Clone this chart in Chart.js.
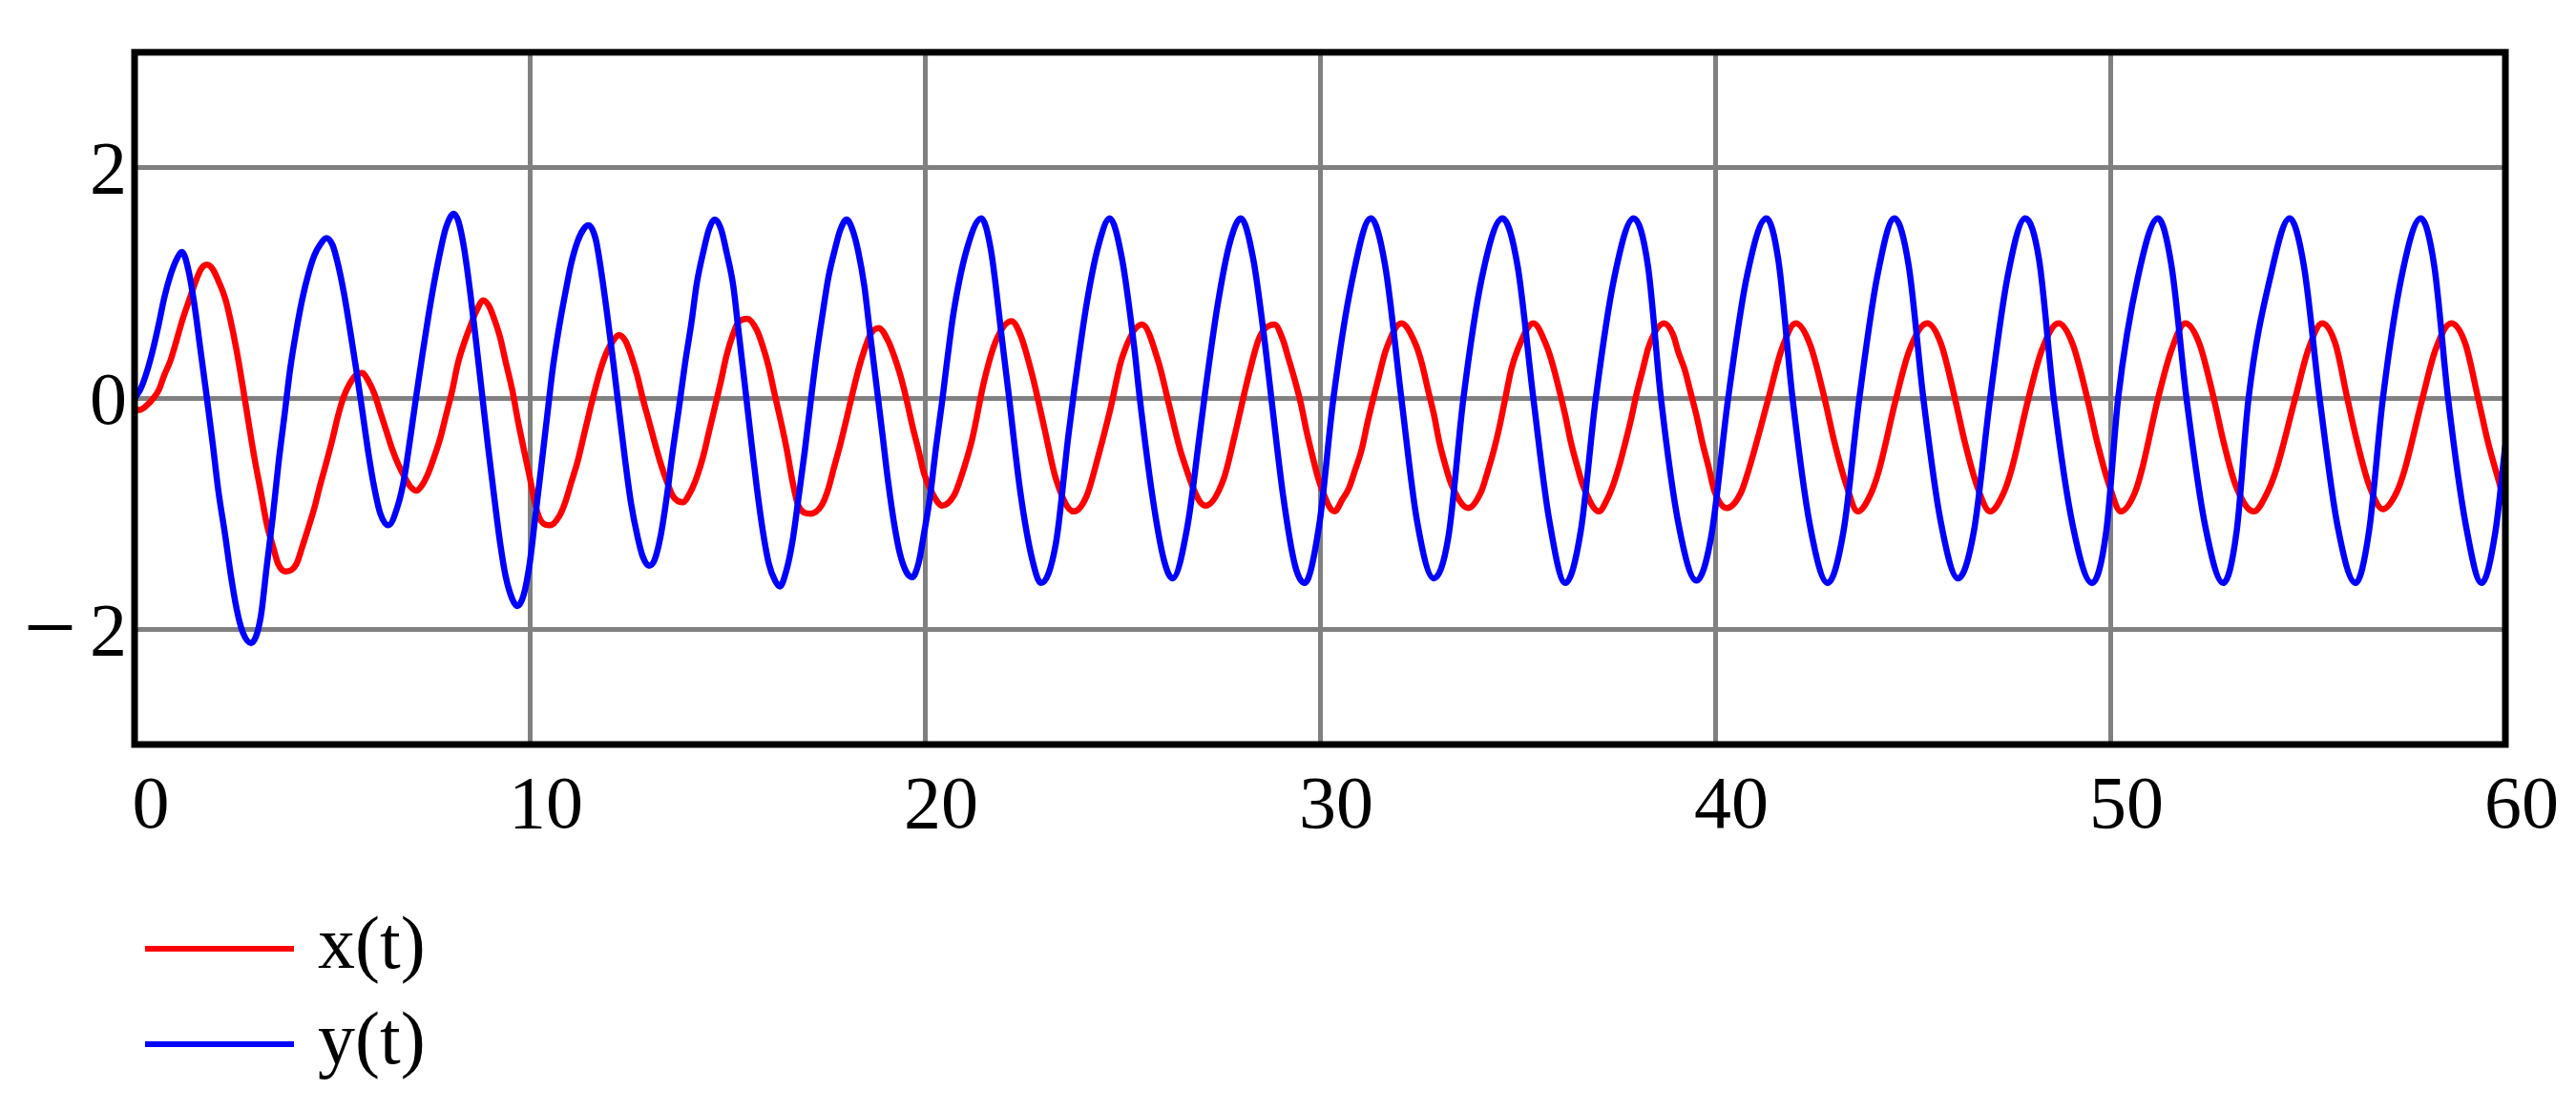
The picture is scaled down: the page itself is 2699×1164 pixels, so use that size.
<!DOCTYPE html>
<html lang="en">
<head>
<meta charset="utf-8">
<title>x(t), y(t)</title>
<script src="https://cdn.jsdelivr.net/npm/chart.js@4.4.1/dist/chart.umd.min.js"></script>
<style>
    html, body { margin: 0; padding: 0; background: #ffffff; }
</style>
</head>
<body>
<canvas id="line-chart" width="2699" height="1164"></canvas>
<script>
"use strict";

// Tick values on the axes
const xTicks = [0, 10, 20, 30, 40, 50, 60];
const yTicks = [-2, 0, 2];

// x(t): times ...
const tX = [
    0.00, 0.12, 0.31, 0.47, 0.61, 0.75, 0.91, 1.06,
    1.22, 1.37, 1.52, 1.68, 1.83, 1.98, 2.12, 2.29,
    2.42, 2.58, 2.73, 2.88, 3.03, 3.19, 3.34, 3.50,
    3.64, 3.82, 4.09, 4.25, 4.39, 4.55, 4.69, 4.85,
    5.01, 5.15, 5.30, 5.45, 5.60, 5.76, 5.92, 6.07,
    6.22, 6.37, 6.51, 6.67, 6.83, 6.97, 7.13, 7.28,
    7.43, 7.58, 7.74, 7.88, 8.04, 8.18, 8.34, 8.49,
    8.64, 8.83, 8.97, 9.10, 9.25, 9.39, 9.56, 9.70,
    9.85, 10.00, 10.14, 10.28, 10.52, 10.75, 10.90, 11.05,
    11.21, 11.35, 11.51, 11.67, 11.81, 11.96, 12.11, 12.26,
    12.42, 12.56, 12.72, 12.86, 13.02, 13.17, 13.32, 13.47,
    13.63, 13.87, 14.07, 14.23, 14.40, 14.53, 14.69, 14.84,
    14.98, 15.15, 15.28, 15.51, 15.75, 15.90, 16.05, 16.19,
    16.35, 16.51, 16.65, 16.80, 17.10, 17.40, 17.56, 17.70,
    17.86, 18.01, 18.16, 18.32, 18.47, 18.63, 18.83, 19.07,
    19.22, 19.38, 19.53, 19.68, 19.84, 19.98, 20.20, 20.44,
    20.74, 20.90, 21.20, 21.50, 21.80, 22.19, 22.42, 22.72,
    23.02, 23.32, 23.77, 24.09, 24.39, 24.69, 24.99, 25.50,
    25.90, 26.19, 26.51, 27.10, 27.56, 27.85, 28.16, 28.47,
    28.85, 29.07, 29.20, 29.37, 29.52, 29.67, 29.81, 29.98,
    30.37, 30.56, 30.73, 30.89, 31.05, 31.21, 31.35, 31.52,
    31.67, 32.06, 32.42, 32.58, 32.73, 32.89, 33.02, 33.19,
    33.33, 33.75, 34.09, 34.23, 34.40, 34.54, 34.69, 34.84,
    35.00, 35.40, 35.74, 35.90, 36.05, 36.21, 36.35, 36.52,
    36.65, 37.06, 37.26, 37.42, 37.56, 37.73, 37.86, 38.02,
    38.17, 38.32, 38.71, 38.94, 39.07, 39.23, 39.38, 39.53,
    39.69, 39.84, 39.98, 40.30, 40.65, 40.85, 41.35, 41.68,
    42.04, 42.40, 42.77, 43.02, 43.32, 43.61, 43.95, 44.15,
    44.58, 44.92, 45.37, 45.72, 46.07, 46.32, 46.62, 46.96,
    47.30, 47.50, 47.93, 48.27, 48.69, 49.05, 49.42, 49.67,
    49.97, 50.27, 50.62, 50.80, 51.21, 51.55, 51.90, 52.26,
    52.62, 52.87, 53.17, 53.63, 53.97, 54.20, 54.68, 55.01,
    55.36, 55.70, 56.00, 56.25, 56.55, 56.90, 57.24, 57.45,
    57.90, 58.23, 58.63, 58.99, 59.31, 59.56, 59.86, 60.00
];
// ... and values
const xVals = [
    -0.10, -0.10, -0.06, 0.00, 0.07, 0.20, 0.33, 0.50,
    0.69, 0.84, 0.99, 1.12, 1.16, 1.12, 1.02, 0.87,
    0.69, 0.42, 0.12, -0.20, -0.51, -0.80, -1.08, -1.28,
    -1.44, -1.50, -1.44, -1.28, -1.13, -0.95, -0.76, -0.56,
    -0.35, -0.15, 0.02, 0.13, 0.20, 0.22, 0.15, 0.04,
    -0.12, -0.28, -0.43, -0.57, -0.68, -0.76, -0.80, -0.75,
    -0.65, -0.51, -0.34, -0.15, 0.07, 0.30, 0.48, 0.62,
    0.75, 0.85, 0.80, 0.69, 0.53, 0.32, 0.07, -0.19,
    -0.44, -0.68, -0.92, -1.06, -1.10, -1.02, -0.90, -0.73,
    -0.55, -0.35, -0.12, 0.10, 0.27, 0.41, 0.50, 0.55,
    0.50, 0.38, 0.20, 0.00, -0.20, -0.39, -0.57, -0.72,
    -0.85, -0.90, -0.81, -0.68, -0.49, -0.30, -0.07, 0.15,
    0.37, 0.56, 0.66, 0.69, 0.59, 0.45, 0.27, 0.05,
    -0.19, -0.45, -0.72, -0.93, -1.00, -0.92, -0.78, -0.60,
    -0.40, -0.19, 0.03, 0.25, 0.42, 0.56, 0.61, 0.50,
    0.37, 0.20, 0.00, -0.23, -0.45, -0.65, -0.83, -0.93,
    -0.84, -0.70, -0.35, 0.15, 0.50, 0.67, 0.55, 0.20,
    -0.25, -0.70, -0.98, -0.85, -0.50, -0.10, 0.35, 0.64,
    0.33, -0.07, -0.50, -0.93, -0.70, -0.31, 0.15, 0.53,
    0.64, 0.50, 0.35, 0.15, -0.05, -0.30, -0.50, -0.72,
    -0.98, -0.88, -0.78, -0.62, -0.45, -0.20, 0.00, 0.23,
    0.42, 0.65, 0.47, 0.30, 0.08, -0.15, -0.38, -0.60,
    -0.75, -0.95, -0.80, -0.65, -0.45, -0.25, 0.00, 0.25,
    0.42, 0.65, 0.45, 0.28, 0.08, -0.15, -0.38, -0.60,
    -0.75, -0.98, -0.88, -0.75, -0.60, -0.38, -0.20, 0.05,
    0.25, 0.45, 0.65, 0.55, 0.40, 0.25, 0.05, -0.15,
    -0.40, -0.60, -0.80, -0.95, -0.82, -0.62, 0.00, 0.42,
    0.65, 0.47, 0.00, -0.38, -0.75, -0.98, -0.82, -0.62,
    0.00, 0.42, 0.65, 0.47, 0.00, -0.38, -0.75, -0.98,
    -0.82, -0.62, 0.00, 0.42, 0.65, 0.47, 0.00, -0.38,
    -0.75, -0.98, -0.82, -0.62, 0.00, 0.42, 0.65, 0.47,
    0.00, -0.38, -0.75, -0.98, -0.82, -0.62, 0.00, 0.42,
    0.65, 0.47, 0.00, -0.38, -0.75, -0.96, -0.82, -0.62,
    0.00, 0.42, 0.65, 0.47, 0.00, -0.38, -0.75, -0.93
];

// y(t): times ...
const tY = [
    0.00, 0.15, 0.31, 0.47, 0.61, 0.75, 0.91, 1.07,
    1.20, 1.37, 1.52, 1.66, 1.82, 1.98, 2.12, 2.29,
    2.43, 2.58, 2.73, 2.95, 3.19, 3.34, 3.50, 3.64,
    3.80, 3.94, 4.10, 4.25, 4.40, 4.55, 4.71, 4.85,
    5.01, 5.15, 5.30, 5.45, 5.61, 5.76, 5.92, 6.07,
    6.22, 6.42, 6.67, 6.83, 6.97, 7.12, 7.28, 7.43,
    7.58, 7.74, 7.88, 8.08, 8.20, 8.34, 8.49, 8.64,
    8.79, 8.95, 9.10, 9.25, 9.39, 9.56, 9.69, 9.85,
    10.00, 10.14, 10.29, 10.44, 10.58, 10.75, 10.91, 11.05,
    11.21, 11.37, 11.49, 11.67, 11.81, 11.96, 12.12, 12.27,
    12.42, 12.56, 12.73, 12.86, 13.02, 13.16, 13.32, 13.47,
    13.61, 13.77, 13.93, 14.09, 14.23, 14.40, 14.54, 14.68,
    14.84, 14.98, 15.15, 15.28, 15.44, 15.60, 15.75, 15.90,
    16.05, 16.21, 16.33, 16.49, 16.65, 16.80, 16.96, 17.11,
    17.26, 17.42, 17.56, 17.73, 17.86, 18.02, 18.17, 18.31,
    18.47, 18.61, 18.77, 18.93, 19.07, 19.23, 19.38, 19.54,
    19.68, 19.84, 19.98, 20.14, 20.28, 20.44, 20.58, 20.73,
    21.06, 21.43, 21.67, 21.95, 22.11, 22.42, 22.72, 22.94,
    23.32, 23.63, 23.78, 24.09, 24.39, 24.68, 24.99, 25.30,
    25.44, 25.76, 26.05, 26.27, 26.65, 26.95, 27.10, 27.41,
    27.72, 28.00, 28.31, 28.62, 28.77, 29.07, 29.37, 29.61,
    29.98, 30.34, 30.80, 31.29, 31.65, 32.06, 32.45, 32.88,
    33.25, 33.63, 34.10, 34.62, 35.00, 35.40, 35.80, 36.21,
    36.60, 36.98, 37.45, 37.94, 38.30, 38.63, 39.08, 39.53,
    39.90, 40.33, 40.80, 41.30, 41.60, 41.96, 42.40, 42.85,
    43.25, 43.65, 44.10, 44.54, 44.90, 45.27, 45.70, 46.15,
    46.55, 46.96, 47.40, 47.85, 48.20, 48.57, 49.05, 49.54,
    49.90, 50.20, 50.70, 51.21, 51.55, 51.93, 52.40, 52.86,
    53.20, 53.50, 54.05, 54.54, 54.90, 55.30, 55.75, 56.21,
    56.55, 56.90, 57.40, 57.86, 58.20, 58.55, 59.00, 59.40,
    59.75, 60.00
];
// ... and values
const yVals = [
    0.00, 0.08, 0.23, 0.43, 0.64, 0.87, 1.07, 1.21,
    1.27, 1.10, 0.80, 0.44, 0.03, -0.40, -0.80, -1.18,
    -1.52, -1.82, -2.02, -2.12, -1.90, -1.47, -1.02, -0.57,
    -0.13, 0.26, 0.60, 0.87, 1.08, 1.24, 1.34, 1.39,
    1.33, 1.16, 0.91, 0.60, 0.25, -0.10, -0.48, -0.78,
    -1.00, -1.10, -0.92, -0.68, -0.36, 0.00, 0.37, 0.70,
    1.00, 1.28, 1.48, 1.60, 1.53, 1.30, 0.93, 0.50,
    0.05, -0.43, -0.85, -1.25, -1.54, -1.74, -1.80, -1.70,
    -1.43, -1.03, -0.60, -0.16, 0.25, 0.63, 0.93, 1.17,
    1.36, 1.47, 1.50, 1.38, 1.10, 0.73, 0.30, -0.13,
    -0.55, -0.90, -1.20, -1.37, -1.45, -1.40, -1.18, -0.85,
    -0.48, -0.10, 0.30, 0.65, 1.00, 1.28, 1.47, 1.55,
    1.47, 1.27, 0.98, 0.60, 0.13, -0.35, -0.78, -1.15,
    -1.43, -1.58, -1.63, -1.50, -1.24, -0.87, -0.46, -0.03,
    0.38, 0.75, 1.05, 1.30, 1.46, 1.55, 1.46, 1.28,
    0.97, 0.57, 0.13, -0.32, -0.72, -1.10, -1.36, -1.51,
    -1.55, -1.43, -1.17, -0.83, -0.43, -0.02, 0.37, 0.75,
    1.29, 1.56, 1.29, 0.52, 0.07, -0.82, -1.40, -1.60,
    -1.25, -0.33, 0.07, 0.81, 1.32, 1.56, 1.21, 0.44,
    0.00, -0.85, -1.40, -1.56, -1.10, -0.33, 0.07, 0.81,
    1.35, 1.56, 1.21, 0.44, 0.00, -0.85, -1.45, -1.60,
    -1.10, 0.00, 1.00, 1.56, 1.15, 0.00, -1.05, -1.56,
    -1.20, 0.00, 1.05, 1.56, 1.15, 0.00, -1.05, -1.60,
    -1.15, 0.00, 1.05, 1.56, 1.15, 0.00, -1.10, -1.58,
    -1.20, 0.00, 1.05, 1.56, 1.20, 0.00, -1.10, -1.60,
    -1.15, 0.00, 1.05, 1.56, 1.15, 0.00, -1.05, -1.56,
    -1.15, 0.00, 1.05, 1.56, 1.20, 0.00, -1.10, -1.60,
    -1.15, 0.00, 1.05, 1.56, 1.15, 0.00, -1.10, -1.60,
    -1.15, 0.00, 1.05, 1.56, 1.15, 0.00, -1.10, -1.60,
    -1.15, 0.00, 1.10, 1.56, 1.15, 0.00, -1.10, -1.60,
    -1.15, -0.40
];

// Font used for ticks and legend
const serif = "'Liberation Serif', 'Times New Roman', serif";
const labelFont = { family: serif, size: 78 };

// Pairs a time array with a value array into {x, y} points
function toPoints(times, values) {
    return times.map((t, i) => ({ x: t, y: values[i] }));
}

// Black frame over the curves, long minus signs on the y-axis and the legend under the chart
const frameAndLegend = {
    id: 'frameAndLegend',
    afterDatasetsDraw(chart) {
        const { ctx, chartArea } = chart;
        ctx.save();
        ctx.strokeStyle = '#000000';
        ctx.lineWidth = 7;
        ctx.strokeRect(chartArea.left, chartArea.top, chartArea.right - chartArea.left, chartArea.bottom - chartArea.top);
        ctx.restore();
    },
    afterDraw(chart) {
        const { ctx, chartArea } = chart;
        const yScale = chart.scales.y;
        ctx.save();

        // Minus sign in front of negative y-labels (wider than the digit font gives)
        ctx.fillStyle = '#000000';
        ctx.font = '98px ' + serif;
        ctx.textAlign = 'right';
        ctx.textBaseline = 'middle';
        yScale.ticks.forEach(tick => {
            if (tick.value < 0) {
                ctx.fillText('\u2212', chartArea.left - 61, yScale.getPixelForValue(tick.value) + 5);
            }
        });

        // Legend: a stroke and the label of each dataset, one under the other
        const left = chartArea.left + 11;
        ctx.font = labelFont.size + 'px ' + serif;
        ctx.textAlign = 'left';
        chart.data.datasets.forEach((ds, i) => {
            const y = chartArea.bottom + 214 + i * 100;
            ctx.strokeStyle = ds.borderColor;
            ctx.lineWidth = 6;
            ctx.beginPath();
            ctx.moveTo(left, y);
            ctx.lineTo(left + 156, y);
            ctx.stroke();
            ctx.fillText(ds.label, left + 181, y);
        });
        ctx.restore();
    }
};

// Creates the line chart
new Chart(document.getElementById('line-chart'), {
    type: 'line',
    data: {
        datasets: [
            {
                label: 'x(t)',
                data: toPoints(tX, xVals),
                borderColor: '#ff0000',
                borderWidth: 6.5,
                pointRadius: 0,
                cubicInterpolationMode: 'monotone',
                fill: false,
                order: 1
            },
            {
                label: 'y(t)',
                data: toPoints(tY, yVals),
                borderColor: '#0000ff',
                borderWidth: 6.5,
                pointRadius: 0,
                cubicInterpolationMode: 'monotone',
                fill: false,
                order: 0 // drawn on top
            }
        ]
    },
    options: {
        responsive: false,
        animation: false,
        layout: {
            padding: { top: 31, right: 74, left: 0, bottom: 0 }
        },
        plugins: {
            legend: { display: false },
            tooltip: { enabled: false }
        },
        scales: {
            x: {
                type: 'linear',
                min: 0,
                max: 60,
                afterBuildTicks: scale => { scale.ticks = xTicks.map(v => ({ value: v })); },
                afterFit: scale => { scale.height = 384; },
                border: { display: false },
                grid: { color: '#808080', lineWidth: 5, drawTicks: false },
                ticks: {
                    font: labelFont,
                    color: '#000000',
                    padding: 20,
                    labelOffset: 17,
                    maxRotation: 0,
                    autoSkip: false
                }
            },
            y: {
                type: 'linear',
                min: -3,
                max: 3,
                afterBuildTicks: scale => { scale.ticks = yTicks.map(v => ({ value: v })); },
                afterFit: scale => { scale.width = 141; },
                border: { display: false },
                grid: { color: '#808080', lineWidth: 5, drawTicks: false },
                ticks: {
                    font: labelFont,
                    color: '#000000',
                    padding: 8,
                    labelOffset: 6,
                    // The digits only; the minus sign is drawn by the plugin
                    callback: value => String(Math.abs(value))
                }
            }
        }
    },
    plugins: [frameAndLegend]
});
</script>
</body>
</html>
